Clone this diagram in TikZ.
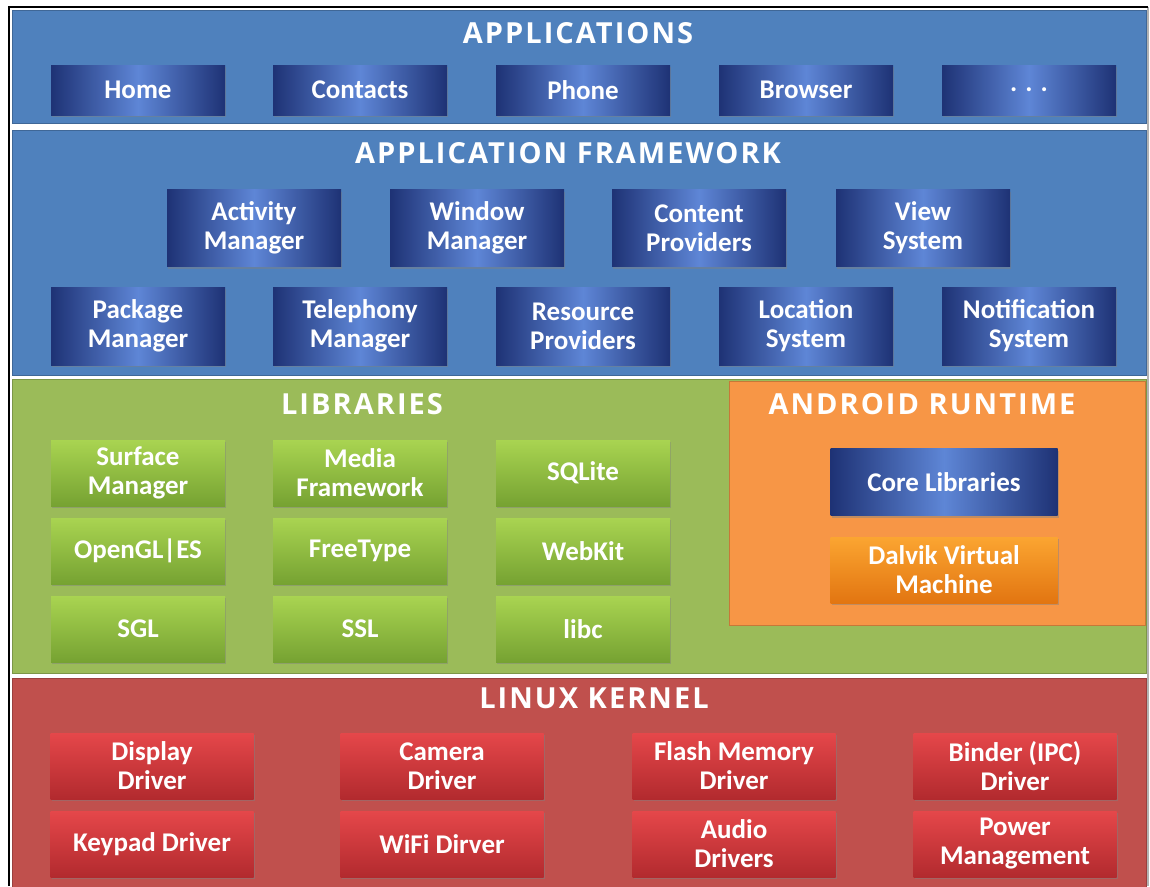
\documentclass[tikz,border=0pt]{standalone}
\usepackage{fontspec}
\setmainfont{Carlito}
\newfontfamily\titlefont{Open Sans}[LetterSpace=7]
\usepackage{tikz}
\usetikzlibrary{shadows}

\definecolor{bandblue}{HTML}{4F81BD}
\definecolor{bandgreen}{HTML}{9BBB59}
\definecolor{bandorange}{HTML}{F79646}
\definecolor{bandred}{HTML}{C0504D}
\definecolor{navydark}{HTML}{1E3275}
\definecolor{navylight}{HTML}{5E86D6}
\definecolor{greentop}{HTML}{A9D451}
\definecolor{greenbot}{HTML}{76A232}
\definecolor{redtop}{HTML}{E5474A}
\definecolor{redbot}{HTML}{B22A2E}
\definecolor{orangetop}{HTML}{FBA531}
\definecolor{orangebot}{HTML}{E27511}

\tikzset{
  band/.style={draw=#1!80!black, fill=#1, line width=0.8pt},
  layertitle/.style={text=white, font=\titlefont\bfseries\fontsize{29}{32}\selectfont},
  btn/.style={text=white, align=center, inner sep=0pt,
    font=\bfseries\fontsize{27}{29}\selectfont,
    drop shadow={shadow xshift=1pt, shadow yshift=-2pt, opacity=0.45}},
  appbox/.style={btn, minimum width=174pt, minimum height=#1pt,
    left color=navydark, right color=navydark, middle color=navylight},
  libbox/.style={btn, minimum width=174pt, minimum height=66pt,
    top color=greentop, bottom color=greenbot},
  kernbox/.style={btn, minimum width=203pt, minimum height=66pt,
    top color=redtop, bottom color=redbot},
  dvmbox/.style={btn, minimum width=227pt, minimum height=66pt,
    top color=orangetop, bottom color=orangebot},
}

\begin{document}
\begin{tikzpicture}[x=1pt, y=-1pt]
\useasboundingbox[fill=white] (0,0) rectangle (1150,886);

% frame
\draw[gray!60, line width=1.5pt] (1148,7) -- (1148,886);
\draw[black, line width=1.5pt] (9,886) -- (9,7) -- (1148,7);

% layers
\draw[band=bandblue] (12,10) rectangle (1146,123);
\draw[band=bandblue] (12,130) rectangle (1146,375);
\draw[band=bandgreen] (12,379) rectangle (1146,673);
\draw[band=bandorange] (729,381) rectangle (1145,625);
\draw[band=bandred] (12,678) rectangle (1146,890);

% applications
\node[layertitle] (apptitle) at (578,33) {APPLICATIONS};
\node[appbox=50] (home) at (138,90) {Home};
\node[appbox=50] (contacts) at (360,90) {Contacts};
\node[appbox=50] (phone) at (583,90) {Phone};
\node[appbox=50] (browser) at (806,90) {Browser};
\node[appbox=50] (more) at (1029,90) {. . .};

% application framework
\node[layertitle] (fwtitle) at (568,153) {APPLICATION FRAMEWORK};
\node[appbox=77] (activity) at (254,228) {Activity\\Manager};
\node[appbox=77] (window) at (477,228) {Window\\Manager};
\node[appbox=77] (content) at (699,228) {Content\\Providers};
\node[appbox=77] (view) at (923,228) {View\\System};
\node[appbox=78] (package) at (138,326) {Package\\Manager};
\node[appbox=78] (telephony) at (360,326) {Telephony\\Manager};
\node[appbox=78] (resource) at (583,326) {Resource\\Providers};
\node[appbox=78] (location) at (806,326) {Location\\System};
\node[appbox=78] (notification) at (1029,326) {Notification\\System};

% libraries
\node[layertitle] (libtitle) at (362,404) {LIBRARIES};
\node[libbox] (surface) at (138,473) {Surface\\Manager};
\node[libbox] (media) at (360,473) {Media\\Framework};
\node[libbox] (sqlite) at (583,473) {SQLite};
\node[libbox] (opengl) at (138,551) {OpenGL|ES};
\node[libbox] (freetype) at (360,551) {FreeType};
\node[libbox] (webkit) at (583,551) {WebKit};
\node[libbox] (sgl) at (138,629) {SGL};
\node[libbox] (ssl) at (360,629) {SSL};
\node[libbox] (libc) at (583,629) {libc};

% android runtime
\node[layertitle] (rttitle) at (922,404) {ANDROID RUNTIME};
\node[appbox=67, minimum width=227pt] (core) at (944,482) {Core Libraries};
\node[dvmbox] (dalvik) at (944,570) {Dalvik Virtual\\Machine};

% linux kernel
\node[layertitle] (kerntitle) at (594,698) {LINUX KERNEL};
\node[kernbox] (display) at (152,766) {Display\\Driver};
\node[kernbox] (camera) at (442,766) {Camera\\Driver};
\node[kernbox] (flash) at (734,766) {Flash Memory\\Driver};
\node[kernbox] (binder) at (1015,766) {Binder (IPC)\\Driver};
\node[kernbox] (keypad) at (152,844) {Keypad Driver};
\node[kernbox] (wifi) at (442,844) {WiFi Dirver};
\node[kernbox] (audio) at (734,844) {Audio\\Drivers};
\node[kernbox] (power) at (1015,844) {Power\\Management};
\end{tikzpicture}
\end{document}
